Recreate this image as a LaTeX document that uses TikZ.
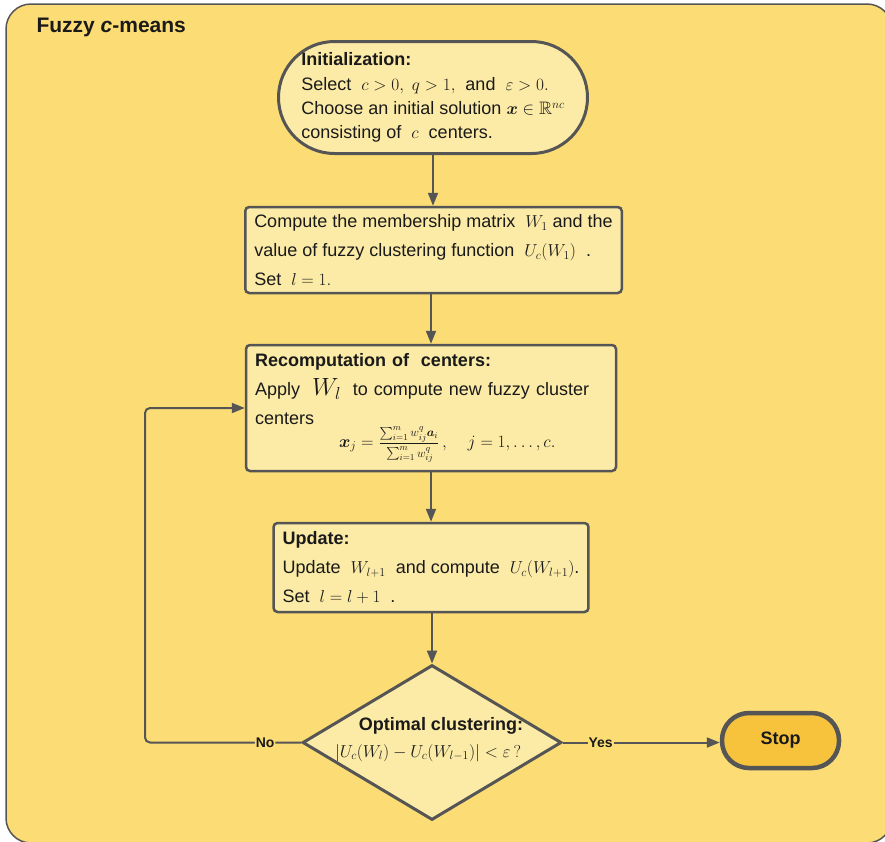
\documentclass[tikz,border=0pt]{standalone}
\usepackage{amsmath,amssymb}
\usepackage{fontspec}
\setmainfont{Liberation Sans}
\usetikzlibrary{arrows.meta,shapes.geometric}
\definecolor{bg}{HTML}{FCDC74}
\definecolor{boxfill}{HTML}{FCEBA6}
\definecolor{stopfill}{HTML}{F7C33C}
\definecolor{edge}{HTML}{555555}
\definecolor{ink}{HTML}{1A1A1A}
\begin{document}
\begin{tikzpicture}[x=1pt,y=-1pt,
  txt/.style={font=\fontsize{18}{29}\selectfont, text=ink},
  procbox/.style={draw=edge, line width=2.5pt, fill=boxfill, rounded corners=4pt,
    align=left, txt, inner xsep=9pt, inner ysep=0pt},
  arr/.style={draw=edge, line width=2pt, -{Triangle[length=13pt,width=10pt]}},
  lab/.style={fill=bg, font=\bfseries\fontsize{14}{14}\selectfont, text=ink, inner sep=1pt}]

\useasboundingbox (0,0) rectangle (885,841);
\clip (0,0) rectangle (885,841);
\draw[edge, line width=1.5pt, fill=bg, rounded corners=25pt] (6,4) rectangle (892,843);

\node[anchor=west, font=\bfseries\fontsize{21}{21}\selectfont, text=ink] (title) at (33,27) {Fuzzy \textit{c}-means};

\node[draw=edge, line width=3pt, fill=boxfill, rounded corners=56pt, minimum width=309pt,
  minimum height=112pt, align=left, text=ink, font=\fontsize{18}{24.3}\selectfont] (init) at (433,97.5)
  {\textbf{Initialization:}\\
   Select \ $c>0,\ q>1,$ \ and \ $\varepsilon>0.$\\
   Choose an initial solution $\boldsymbol{x}\in\mathbb{R}^{nc}$\\
   consisting of \ $c$ \ centers.};

\node[procbox, minimum width=371pt, minimum height=86pt] (b2) at (433.5,250)
  {Compute the membership matrix \ $W_1$ and the\\
   value of fuzzy clustering function \ $U_c(W_1)$ \ .\\
   Set \ $l=1.$};

\node[procbox, minimum width=370pt, minimum height=126pt, text width=352pt] (b3) at (431,408)
  {\textbf{Recomputation of \ centers:}\\
   Apply \ {\fontsize{24}{24}\selectfont$W_l$} \ to compute new fuzzy cluster\\
   centers\\[-6pt]
   \hspace*{84pt}$\boldsymbol{x}_j=\frac{\sum_{i=1}^m w_{ij}^q\boldsymbol{a}_i\rule[-5pt]{0pt}{5pt}}{\rule{0pt}{13pt}\sum_{i=1}^m w_{ij}^q}\,,\quad j=1,\ldots,c.$};

\node[procbox, minimum width=312pt, minimum height=89pt] (b4) at (431,567.5)
  {\textbf{Update:}\\
   Update \ $W_{l+1}$ \ and compute \ $U_c(W_{l+1})$.\\
   Set \ $l=l+1$ \ .};

\node[draw=edge, line width=3pt, fill=boxfill, diamond, minimum width=259pt,
  minimum height=155pt, inner sep=0pt] (dia) at (432,742.5) {};
\node[font=\bfseries\fontsize{18}{18}\selectfont, text=ink] (dq) at (441,726) {Optimal clustering:};
\node[txt] (df) at (428,753) {$|U_c(W_l)-U_c(W_{l-1})|<\varepsilon\,?$};

\node[draw=edge, line width=4.5pt, fill=stopfill, rounded corners=27pt, minimum width=117pt,
  minimum height=55pt, font=\bfseries\fontsize{18}{18}\selectfont, text=ink] (stop) at (780.5,740.5) {Stop};

\draw[arr] (init.south) -- (init.south |- b2.north);
\draw[arr] (b2.south -| b3.north) -- (b3.north);
\draw[arr] (b3.south) -- (b4.north);
\draw[arr] (b4.south -| dia.north) -- (dia.north);

\coordinate (loop) at (145,742.5);
\draw[arr, rounded corners=5pt] (dia.west) -- node[lab,pos=0.23]{No} (loop) |- (b3.west);
\draw[arr] (dia.east) -- node[lab,pos=0.24]{Yes} (dia.east -| stop.west);
\end{tikzpicture}
\end{document}
